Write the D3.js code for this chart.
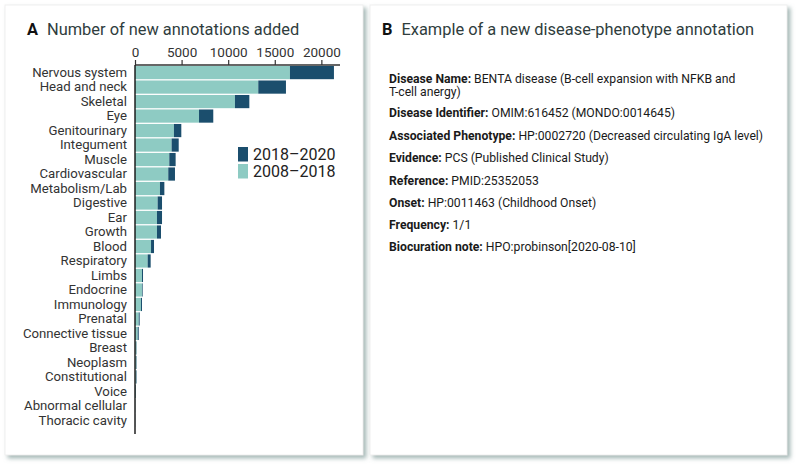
<!DOCTYPE html>
<html lang="en">
<head>
  <meta charset="utf-8">
  <title>New annotations</title>
  <script src="https://cdn.jsdelivr.net/npm/d3@7"></script>
  <style>
    body { margin: 0; background: #fff; font-family: Roboto, "Noto Sans", sans-serif; }
  </style>
</head>
<body>
  <script>
    // categories, top to bottom
    var categories = ["Nervous system", "Head and neck", "Skeletal", "Eye", "Genitourinary",
      "Integument", "Muscle", "Cardiovascular", "Metabolism/Lab", "Digestive", "Ear", "Growth",
      "Blood", "Respiratory", "Limbs", "Endocrine", "Immunology", "Prenatal", "Connective tissue",
      "Breast", "Neoplasm", "Constitutional", "Voice", "Abnormal cellular", "Thoracic cavity"];
    // annotations 2008-2018
    var early = [16630, 13230, 10730, 6870, 4180, 3930, 3680, 3570, 2680, 2430, 2360, 2360,
      1720, 1360, 750, 750, 640, 400, 290, 150, 140, 120, 60, 20, 10];
    // annotations 2018-2020
    var recent = [4720, 2970, 1540, 1530, 790, 760, 680, 720, 470, 470, 540, 430,
      320, 320, 110, 70, 110, 100, 110, 30, 40, 50, 40, 10, 10];
    var xTicks = [0, 5000, 10000, 15000, 20000];
    var seriesNames = ["2018\u20132020", "2008\u20132018"];

    var infoLines = [
      ["Disease Name:", " BENTA disease (B-cell expansion with NFKB and"],
      ["", "T-cell anergy)"],
      ["Disease Identifier:", " OMIM:616452 (MONDO:0014645)"],
      ["Associated Phenotype:", " HP:0002720 (Decreased circulating IgA level)"],
      ["Evidence:", " PCS (Published Clinical Study)"],
      ["Reference:", " PMID:25352053"],
      ["Onset:", " HP:0011463 (Childhood Onset)"],
      ["Frequency:", " 1/1"],
      ["Biocuration note:", " HPO:probinson[2020-08-10]"]
    ];
    var infoY = [78, 91, 112, 135, 157, 180, 202, 224, 246];

    var teal = "#8ecbc3";
    var navy = "#1b4e6d";

    var svg = d3.select("body").append("svg")
                .attr("width", 796)
                .attr("height", 465);

    var defs = svg.append("defs");
    var shadow = defs.append("filter").attr("id", "shadow")
                     .attr("x", "-5%").attr("y", "-5%").attr("width", "115%").attr("height", "115%");
    shadow.append("feDropShadow")
          .attr("dx", 3).attr("dy", 3).attr("stdDeviation", 2)
          .attr("flood-color", "#8fa7a4").attr("flood-opacity", 0.8);

    // the two cards
    [[5, 5, 358, 450], [370, 5, 417, 450]].forEach(function(c) {
      svg.append("rect")
         .attr("x", c[0]).attr("y", c[1]).attr("width", c[2]).attr("height", c[3])
         .attr("fill", "#fff")
         .attr("stroke", "#ececec").attr("stroke-width", 0.8)
         .attr("filter", "url(#shadow)");
    });

    // ---- panel A ----
    var titleA = svg.append("text").attr("x", 27).attr("y", 35)
                    .attr("font-size", 16.4).attr("fill", "#2f3d3d");
    titleA.append("tspan").attr("font-weight", "bold").attr("fill", "#111").text("A");
    titleA.append("tspan").attr("dx", 9).text("Number of new annotations added");

    var x = d3.scaleLinear().domain([0, 22000]).range([135, 340]);
    var y = d3.scaleBand().domain(categories).range([66, 427]).paddingInner(0.09);

    var xAxis = d3.axisTop(x).tickValues(xTicks).tickFormat(d3.format("d")).tickSize(5).tickPadding(3);
    var gx = svg.append("g").attr("transform", "translate(0,65)").call(xAxis);
    gx.select(".domain").attr("stroke", "#333").attr("stroke-width", 1.4)
      .attr("d", "M135,0H340");
    gx.selectAll(".tick line").attr("stroke", "#333").attr("stroke-width", 1.2);
    gx.selectAll(".tick text").attr("font-family", "Roboto").attr("font-size", 13.5).attr("fill", "#333");

    var bars = svg.append("g");
    bars.selectAll(".early")
        .data(categories)
        .enter().append("rect")
        .attr("x", x(0))
        .attr("y", function(d) { return y(d); })
        .attr("width", function(d, i) { return x(early[i]) - x(0); })
        .attr("height", y.bandwidth())
        .attr("fill", teal);
    bars.selectAll(".recent")
        .data(categories)
        .enter().append("rect")
        .attr("x", function(d, i) { return x(early[i]); })
        .attr("y", function(d) { return y(d); })
        .attr("width", function(d, i) { return x(early[i] + recent[i]) - x(early[i]); })
        .attr("height", y.bandwidth())
        .attr("fill", navy);

    var yAxis = d3.axisLeft(y).tickSize(0).tickPadding(8);
    var gy = svg.append("g").attr("transform", "translate(135,0)").call(yAxis);
    gy.select(".domain").attr("stroke", "#111").attr("stroke-width", 1.4)
      .attr("d", "M0,65V434");
    gy.selectAll(".tick text").attr("font-family", "Roboto").attr("font-size", 13.2).attr("fill", "#333");

    // legend
    var legend = svg.append("g");
    legend.selectAll("rect")
          .data(seriesNames)
          .enter().append("rect")
          .attr("x", 238)
          .attr("y", function(d, i) { return 147 + i * 17; })
          .attr("width", 10).attr("height", 14.5)
          .attr("fill", function(d, i) { return i === 0 ? navy : teal; });
    legend.selectAll("text")
          .data(seriesNames)
          .enter().append("text")
          .attr("x", 253)
          .attr("y", function(d, i) { return 160 + i * 17; })
          .attr("font-size", 16).attr("fill", "#222")
          .text(function(d) { return d; });

    // ---- panel B ----
    var titleB = svg.append("text").attr("x", 382).attr("y", 35)
                    .attr("font-size", 16.4).attr("fill", "#2f3d3d");
    titleB.append("tspan").attr("font-weight", "bold").attr("fill", "#111").text("B");
    titleB.append("tspan").attr("dx", 9).text("Example of a new disease-phenotype annotation");

    var info = svg.append("g");
    info.selectAll("text")
        .data(infoLines)
        .enter().append("text")
        .attr("x", 389)
        .attr("y", function(d, i) { return infoY[i] + 4.5; })
        .attr("font-size", 12.2).attr("fill", "#1a1a1a")
        .each(function(d) {
          var t = d3.select(this);
          if (d[0]) t.append("tspan").attr("font-weight", "bold").text(d[0]);
          t.append("tspan").attr("xml:space", "preserve").text(d[1]);
        });
  </script>
</body>
</html>
